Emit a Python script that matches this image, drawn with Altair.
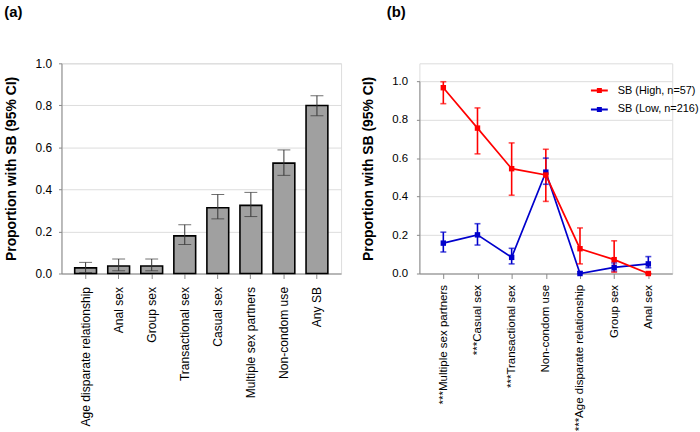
import altair as alt
import pandas as pd

# ---- Panel (a) data ----
cats_a = ["Age disparate relationship", "Anal sex", "Group sex", "Transactional sex",
          "Casual sex", "Multiple sex partners", "Non-condom use", "Any SB"]
prop_a = [0.027, 0.036, 0.036, 0.179, 0.313, 0.324, 0.525, 0.799]
lo_a = [0.005, 0.013, 0.013, 0.138, 0.260, 0.271, 0.467, 0.751]
hi_a = [0.053, 0.069, 0.069, 0.232, 0.376, 0.386, 0.588, 0.846]

# ---- Panel (b) data ----
cats_b = ["***Multiple sex partners", "***Casual sex", "***Transactional sex", "Non-condom use",
          "***Age disparate relationship", "Group sex", "Anal sex"]
series = ["SB (High, n=57)", "\u00a0SB (Low, n=216)"]
high = [0.966, 0.756, 0.545, 0.512, 0.129, 0.072, 0.0]
high_lo = [0.883, 0.622, 0.407, 0.375, 0.050, 0.007, 0.0]
high_hi = [0.997, 0.861, 0.679, 0.646, 0.237, 0.170, 0.0]
low = [0.158, 0.201, 0.084, 0.527, 0.0, 0.032, 0.050]
low_lo = [0.112, 0.148, 0.050, 0.464, 0.0, 0.013, 0.030]
low_hi = [0.215, 0.259, 0.131, 0.600, 0.010, 0.055, 0.088]
colors = ["#ff0000", "#0000cc"]

FONT = "Liberation Sans"
YTITLE = "Proportion with SB (95% CI)"

df_a = pd.DataFrame({"cat": cats_a, "p": prop_a, "lo": lo_a, "hi": hi_a})

rows = []
for s, v, l, h in [(series[1], low, low_lo, low_hi), (series[0], high, high_lo, high_hi)]:
    for c, vv, ll, hh in zip(cats_b, v, l, h):
        rows.append({"cat": c, "series": s, "p": vv, "lo": ll, "hi": hh})
df_b = pd.DataFrame(rows)

H = 212
tick_vals = [0, 0.2, 0.4, 0.6, 0.8, 1.0]
yscale_a = alt.Scale(domain=[0, 1], nice=False)
yscale_b = alt.Scale(domain=[0, 1], nice=False, range=[H, 18])

# ---------- Panel (a) ----------
xa = alt.X("cat:N", sort=cats_a, scale=alt.Scale(paddingInner=0.34, paddingOuter=0.4),
           axis=alt.Axis(title=None, labelAngle=-90, labelFontSize=12.2, tickSize=5,
                         labelPadding=8, labelLimit=300))
ya_axis = alt.Axis(title=YTITLE, values=tick_vals, format=".1f", labelFontSize=12,
                   tickSize=3, labelPadding=7, titleFontSize=14, titleFontWeight="bold",
                   titlePadding=17, labelOverlap=False)
base_a = alt.Chart(df_a).encode(x=xa)
bars = base_a.mark_bar(fill="#a0a0a0", stroke="black", strokeWidth=1.6).encode(
    y=alt.Y("p:Q", scale=yscale_a, axis=ya_axis))
err_a = base_a.mark_rule(color="#333333", strokeWidth=1).encode(y="lo:Q", y2="hi:Q")
cap_lo_a = base_a.mark_tick(color="#333333", size=13, thickness=1).encode(y="lo:Q")
cap_hi_a = base_a.mark_tick(color="#333333", size=13, thickness=1).encode(y="hi:Q")

chart_a = alt.layer(bars, err_a, cap_lo_a, cap_hi_a).properties(
    width=282, height=H,
    title=alt.TitleParams("(a)", anchor="start", fontSize=15, fontWeight="bold",
                          font=FONT, offset=38),
)

# ---------- Panel (b) ----------
xb = alt.X("cat:N", sort=cats_b, scale=alt.Scale(type="point", padding=0.7),
           axis=alt.Axis(title=None, labelAngle=-90, labelFontSize=11.6, tickSize=5,
                         labelPadding=6, labelLimit=300))
yb_axis = alt.Axis(title=YTITLE, values=tick_vals, format=".1f", labelFontSize=11.5,
                   tickSize=3, labelPadding=9, titleFontSize=14, titleFontWeight="bold",
                   titlePadding=16, labelOverlap=False, titleY=106)
cscale = alt.Scale(domain=series, range=colors)
legend_path = "M-1,0H1M-0.18,-0.18H0.18V0.18H-0.18Z"
base_b = alt.Chart(df_b).encode(x=xb)
lines = base_b.mark_line(strokeWidth=1.7).encode(
    y=alt.Y("p:Q", scale=yscale_b, axis=yb_axis),
    color=alt.Color("series:N", scale=cscale, sort=series,
                    legend=alt.Legend(title=None, orient="none", legendX=172, legendY=18,
                                      symbolType=legend_path, symbolSize=289,
                                      symbolStrokeWidth=2, labelFontSize=11,
                                      labelFont=FONT, labelOffset=9, rowPadding=3,
                                      padding=0)),
)
pts = base_b.mark_point(shape="square", filled=True, size=30, opacity=1).encode(
    y="p:Q", color=alt.Color("series:N", scale=cscale, legend=None))
err_b = base_b.mark_rule(strokeWidth=1.6).encode(
    y="lo:Q", y2="hi:Q", color=alt.Color("series:N", scale=cscale, legend=None))
cap_lo_b = base_b.mark_tick(size=6, thickness=1.6).encode(
    y="lo:Q", color=alt.Color("series:N", scale=cscale, legend=None))
cap_hi_b = base_b.mark_tick(size=6, thickness=1.6).encode(
    y="hi:Q", color=alt.Color("series:N", scale=cscale, legend=None))

chart_b = alt.layer(lines, err_b, cap_lo_b, cap_hi_b, pts).properties(
    width=255, height=H,
    title=alt.TitleParams("(b)", anchor="start", fontSize=15, fontWeight="bold",
                          font=FONT, offset=44, dx=25),
)

chart = alt.hconcat(chart_a, chart_b, spacing=19).resolve_scale(
    color="independent", y="independent"
).resolve_legend(color="independent").properties(
    padding={"left": 3, "top": 2, "right": 0, "bottom": 0}
).configure_view(stroke=None).configure_axis(
    domainColor="black", domainWidth=2, tickColor="black", tickWidth=1.5,
    labelColor="black", titleColor="black", labelFont=FONT, titleFont=FONT, grid=False,
).configure(background="white")

chart.save("out.html", embed_options={"renderer": "svg", "actions": False})
